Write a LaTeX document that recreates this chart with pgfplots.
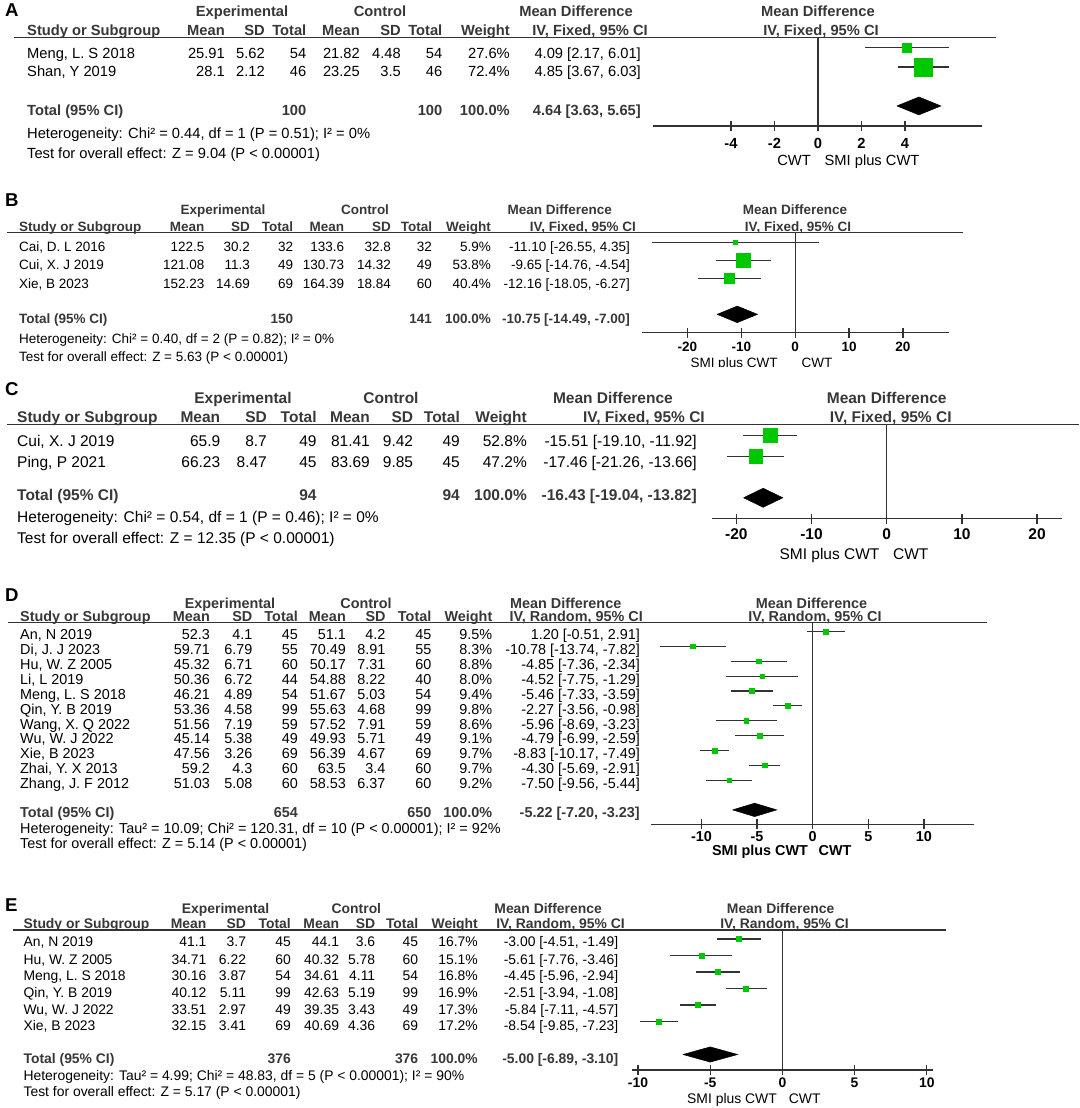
\documentclass[border=0pt]{standalone}
\usepackage{pgfplots}
\pgfplotsset{compat=1.18}
\usepackage{pgfplotstable}
\usepackage{fontspec}
\setmainfont{Liberation Sans}

\definecolor{rmgreen}{RGB}{0,200,0}
\definecolor{ln}{RGB}{50,50,50}
\definecolor{hdr}{RGB}{55,55,55}

% studies: row, mean difference, 95% CI, half side of the square (pt)
\pgfplotstableread{
row md lo hi sz
1 4.09 2.17 6.01 4.3
2 4.85 3.67 6.03 8.8
}\studA
\pgfplotstableread{
row md lo hi sz
1 -11.10 -26.55 4.35 1.7
2 -9.65 -14.76 -4.54 7.0
3 -12.16 -18.05 -6.27 5.0
}\studB
\pgfplotstableread{
row md lo hi sz
1 -15.51 -19.10 -11.92 7.0
2 -17.46 -21.26 -13.66 6.7
}\studC
\pgfplotstableread{
row md lo hi sz
1 1.20 -0.51 2.91 2.4
2 -10.78 -13.74 -7.82 2.3
3 -4.85 -7.36 -2.34 2.3
4 -4.52 -7.75 -1.29 2.3
5 -5.46 -7.33 -3.59 2.4
6 -2.27 -3.56 -0.98 2.4
7 -5.96 -8.69 -3.23 2.3
8 -4.79 -6.99 -2.59 2.4
9 -8.83 -10.17 -7.49 2.4
10 -4.30 -5.69 -2.91 2.4
11 -7.50 -9.56 -5.44 2.4
}\studD
\pgfplotstableread{
row md lo hi sz
1 -3.00 -4.51 -1.49 2.5
2 -5.61 -7.76 -3.46 2.4
3 -4.45 -5.96 -2.94 2.5
4 -2.51 -3.94 -1.08 2.5
5 -5.84 -7.11 -4.57 2.5
6 -8.54 -9.85 -7.23 2.5
}\studE

\pgfplotsset{
  forest/.style={
    scale only axis, clip=false, anchor=north west,
    axis x line*=bottom, axis y line=none,
    x axis line style={ln, line width=1.3pt},
    xtick style={ln, line width=1.3pt},
    major tick length=10pt, tick align=center,
    xticklabel style={anchor=base, text=black},
  },
  ci/.style={ln, only marks, mark=none, forget plot,
    error bars/.cd, x dir=both, x explicit, error mark=none,
    error bar style={ln, line width=1.2pt}},
  sq/.style={only marks, mark=square*, scatter,
    scatter/use mapped color={draw=rmgreen, fill=rmgreen},
    visualization depends on={\thisrow{sz} \as \msz},
    scatter/@pre marker code/.append style={/tikz/mark size=\msz pt}},
  dia/.style={fill=black, draw=black, line width=0.5pt, mark=none},
}
\newcommand\studies[1]{%
  \addplot[ci] table[x=md, y expr=-\thisrow{row},
    x error plus expr=\thisrow{hi}-\thisrow{md},
    x error minus expr=\thisrow{md}-\thisrow{lo}] {#1};
  \addplot[sq] table[x=md, y expr=-\thisrow{row}] {#1};
}

\def\fsz{14}
\tikzset{
  t/.style={inner sep=0pt, font=\fontsize{\fsz}{\fsz}\selectfont},
  tb/.style={inner sep=0pt, font=\fontsize{\fsz}{\fsz}\selectfont\bfseries, text=hdr},
  letter/.style={inner sep=0pt, anchor=base west, font=\fontsize{18.6}{18.6}\selectfont\bfseries},
}
\newcommand\setcols[9]{\def\cN{#1}\def\cMa{#2}\def\cSa{#3}\def\cNa{#4}%
  \def\cMb{#5}\def\cSb{#6}\def\cNb{#7}\def\cW{#8}\def\cMD{#9}}
\newcommand\hrow[1]{%
  \node[tb,anchor=base west] at (\cN,-#1) {Study or Subgroup};
  \node[tb,anchor=base east] at (\cMa,-#1) {Mean};
  \node[tb,anchor=base east] at (\cSa,-#1) {SD};
  \node[tb,anchor=base east] at (\cNa,-#1) {Total};
  \node[tb,anchor=base east] at (\cMb,-#1) {Mean};
  \node[tb,anchor=base east] at (\cSb,-#1) {SD};
  \node[tb,anchor=base east] at (\cNb,-#1) {Total};
  \node[tb,anchor=base east] at (\cW,-#1) {Weight};
}
\newcommand\trow[9]{%
  \node[t,anchor=base west] at (\cN,-#1) {#2};
  \node[t,anchor=base east] at (\cMa,-#1) {#3};
  \node[t,anchor=base east] at (\cSa,-#1) {#4};
  \node[t,anchor=base east] at (\cNa,-#1) {#5};
  \node[t,anchor=base east] at (\cMb,-#1) {#6};
  \node[t,anchor=base east] at (\cSb,-#1) {#7};
  \node[t,anchor=base east] at (\cNb,-#1) {#8};
  \node[t,anchor=base east] at (\cW,-#1) {#9};
}
\newcommand\mdt[2]{\node[t,anchor=base east] at (\cMD,-#1) {#2};}
\newcommand\totrow[4]{%
  \node[tb,anchor=base west] at (\cN,-#1) {Total (95\% CI)};
  \node[tb,anchor=base east] at (\cNa,-#1) {#2};
  \node[tb,anchor=base east] at (\cNb,-#1) {#3};
  \node[tb,anchor=base east] at (\cW,-#1) {100.0\%};
  \node[tb,anchor=base east] at (\cMD,-#1) {#4};
}

\begin{document}
\begin{tikzpicture}[x=1pt, y=1pt]
\useasboundingbox (0,0) rectangle (1079,-1108);

%% ---------------- A ----------------
\def\fsz{14.7}
\setcols{27}{225}{265}{306.5}{360}{401}{442.5}{510}{641}
\node[letter] at (5,-16.7) {A};
\node[tb,anchor=base] at (242,-17) {Experimental};
\node[tb,anchor=base] at (380,-17) {Control};
\node[tb,anchor=base east] at (633,-17) {Mean Difference};
\node[tb,anchor=base] at (818,-17) {Mean Difference};
\hrow{36}
\node[tb,anchor=base east] at (648,-36) {IV, Fixed, 95\% CI};
\node[tb,anchor=base] at (821,-36) {IV, Fixed, 95\% CI};
\draw[ln, line width=1.3] (14,-37.3) -- (995.5,-37.3);
\trow{58.6}{Meng, L. S 2018}{25.91}{5.62}{54}{21.82}{4.48}{54}{27.6\%}
\mdt{58.6}{4.09 [2.17, 6.01]}
\trow{77}{Shan, Y 2019}{28.1}{2.12}{46}{23.25}{3.5}{46}{72.4\%}
\mdt{77}{4.85 [3.67, 6.03]}
\totrow{115.3}{100}{100}{4.64 [3.63, 5.65]}
\node[t,anchor=base west] at (\cN,-138.6) {Heterogeneity: Chi² = 0.44, df = 1 (P = 0.51); I² = 0\%};
\node[t,anchor=base west] at (\cN,-158.6) {Test for overall effect: Z = 9.04 (P < 0.00001)};
\node[t,anchor=base] at (794,-165.3) {CWT};
\node[t,anchor=base] at (872,-165.3) {SMI plus CWT};

\begin{axis}[forest, at={(652.7pt,-37.3pt)}, width=329.5pt, height=88.7pt,
  xmin=-7.6, xmax=7.55, ymin=-5.03, ymax=-0.477,
  xtick={-4,-2,0,2,4}, xticklabels={-4,-2,0,2,4},
  xticklabel style={font=\fontsize{14.7}{14.7}\selectfont\bfseries, yshift=-17pt}]
\addplot[ln, line width=1.3pt] coordinates {(0,-0.477) (0,-5.03)};
\studies{\studA}
\addplot[dia] coordinates {(3.63,-4) (4.64,-3.54) (5.65,-4) (4.64,-4.46) (3.63,-4)};
\end{axis}

%% ---------------- B ----------------
\def\fsz{13.5}
\setcols{19}{204.5}{250}{293.4}{344.4}{391}{432.2}{491}{630}
\node[letter] at (5,-206.7) {B};
\node[tb,anchor=base] at (223,-214.8) {Experimental};
\node[tb,anchor=base] at (365,-214.8) {Control};
\node[tb,anchor=base east] at (612,-214.8) {Mean Difference};
\node[tb,anchor=base] at (795,-214.8) {Mean Difference};
\hrow{231.3}
\node[tb,anchor=base east] at (636,-231.3) {IV, Fixed, 95\% CI};
\node[tb,anchor=base] at (798,-231.3) {IV, Fixed, 95\% CI};
\draw[ln, line width=1.3] (7,-232.5) -- (963,-232.5);
\trow{251.5}{Cai, D. L 2016}{122.5}{30.2}{32}{133.6}{32.8}{32}{5.9\%}
\mdt{251.5}{-11.10 [-26.55, 4.35]}
\trow{269.8}{Cui, X. J 2019}{121.08}{11.3}{49}{130.73}{14.32}{49}{53.8\%}
\mdt{269.8}{-9.65 [-14.76, -4.54]}
\trow{288.1}{Xie, B 2023}{152.23}{14.69}{69}{164.39}{18.84}{60}{40.4\%}
\mdt{288.1}{-12.16 [-18.05, -6.27]}
\totrow{323.1}{150}{141}{-10.75 [-14.49, -7.00]}
\node[t,anchor=base west] at (\cN,-343.1) {Heterogeneity: Chi² = 0.40, df = 2 (P = 0.82); I² = 0\%};
\node[t,anchor=base west] at (\cN,-361.5) {Test for overall effect: Z = 5.63 (P < 0.00001)};
\begin{scope}
\clip (650,-340) rectangle (900,-366);
\node[t,anchor=base] at (734,-367.8) {SMI plus CWT};
\node[t,anchor=base] at (817,-367.8) {CWT};
\end{scope}

\begin{axis}[forest, at={(641.6pt,-232.5pt)}, width=307.2pt, height=100.2pt,
  xmin=-28.5, xmax=28.5, ymin=-6.02, ymax=-0.45,
  xtick={-20,-10,0,10,20}, xticklabels={-20,-10,0,10,20},
  xticklabel style={font=\fontsize{13.5}{13.5}\selectfont\bfseries, yshift=-13.8pt}]
\addplot[ln, line width=1.3pt] coordinates {(0,-0.45) (0,-6.02)};
\studies{\studB}
\addplot[dia] coordinates {(-14.49,-5) (-10.75,-4.54) (-7.00,-5) (-10.75,-5.46) (-14.49,-5)};
\end{axis}

%% ---------------- C ----------------
\def\fsz{15.5}
\setcols{17}{220.4}{267}{316.8}{370}{413.3}{460}{527}{697}
\node[letter] at (5,-395) {C};
\node[tb,anchor=base] at (243,-403.9) {Experimental};
\node[tb,anchor=base] at (391,-403.9) {Control};
\node[tb,anchor=base east] at (673,-403.9) {Mean Difference};
\node[tb,anchor=base] at (886.7,-403.9) {Mean Difference};
\hrow{422.5}
\node[tb,anchor=base east] at (705,-422.5) {IV, Fixed, 95\% CI};
\node[tb,anchor=base] at (890.7,-422.5) {IV, Fixed, 95\% CI};
\draw[ln, line width=1.3] (7,-424.5) -- (1079,-424.5);
\trow{446.2}{Cui, X. J 2019}{65.9}{8.7}{49}{81.41}{9.42}{49}{52.8\%}
\mdt{446.2}{-15.51 [-19.10, -11.92]}
\trow{467.2}{Ping, P 2021}{66.23}{8.47}{45}{83.69}{9.85}{45}{47.2\%}
\mdt{467.2}{-17.46 [-21.26, -13.66]}
\totrow{500.5}{94}{94}{-16.43 [-19.04, -13.82]}
\node[t,anchor=base west] at (\cN,-522.2) {Heterogeneity: Chi² = 0.54, df = 1 (P = 0.46); I² = 0\%};
\node[t,anchor=base west] at (\cN,-543) {Test for overall effect: Z = 12.35 (P < 0.00001)};
\node[t,anchor=base] at (829.5,-559.5) {SMI plus CWT};
\node[t,anchor=base] at (910.7,-559.5) {CWT};

\begin{axis}[forest, at={(711.5pt,-424.5pt)}, width=350.4pt, height=94.2pt,
  xmin=-23.3, xmax=23.3, ymin=-5.01, ymax=-0.466,
  xtick={-20,-10,0,10,20}, xticklabels={-20,-10,0,10,20},
  xticklabel style={font=\fontsize{15.5}{15.5}\selectfont\bfseries, yshift=-15.8pt}]
\addplot[ln, line width=1.3pt] coordinates {(0,-0.466) (0,-5.01)};
\studies{\studC}
\addplot[dia] coordinates {(-19.04,-4) (-16.43,-3.54) (-13.82,-4) (-16.43,-4.46) (-19.04,-4)};
\end{axis}

%% ---------------- D ----------------
\def\fsz{14.4}
\setcols{20}{210}{252.5}{298}{346}{385.7}{431.5}{492.5}{640}
\node[letter] at (5,-601.7) {D};
\node[tb,anchor=base] at (230,-608.9) {Experimental};
\node[tb,anchor=base] at (366,-608.9) {Control};
\node[tb,anchor=base east] at (621.5,-608.9) {Mean Difference};
\node[tb,anchor=base] at (811.5,-608.9) {Mean Difference};
\hrow{621.3}
\node[tb,anchor=base east] at (643,-621.3) {IV, Random, 95\% CI};
\node[tb,anchor=base] at (815,-621.3) {IV, Random, 95\% CI};
\draw[ln, line width=1.3] (7.6,-622.5) -- (987,-622.5);
\trow{639.6}{An, N 2019}{52.3}{4.1}{45}{51.1}{4.2}{45}{9.5\%}
\mdt{639.6}{1.20 [-0.51, 2.91]}
\trow{654.5}{Di, J. J 2023}{59.71}{6.79}{55}{70.49}{8.91}{55}{8.3\%}
\mdt{654.5}{-10.78 [-13.74, -7.82]}
\trow{669.4}{Hu, W. Z 2005}{45.32}{6.71}{60}{50.17}{7.31}{60}{8.8\%}
\mdt{669.4}{-4.85 [-7.36, -2.34]}
\trow{684.3}{Li, L 2019}{50.36}{6.72}{44}{54.88}{8.22}{40}{8.0\%}
\mdt{684.3}{-4.52 [-7.75, -1.29]}
\trow{699.2}{Meng, L. S 2018}{46.21}{4.89}{54}{51.67}{5.03}{54}{9.4\%}
\mdt{699.2}{-5.46 [-7.33, -3.59]}
\trow{714.1}{Qin, Y. B 2019}{53.36}{4.58}{99}{55.63}{4.68}{99}{9.8\%}
\mdt{714.1}{-2.27 [-3.56, -0.98]}
\trow{729.0}{Wang, X. Q 2022}{51.56}{7.19}{59}{57.52}{7.91}{59}{8.6\%}
\mdt{729.0}{-5.96 [-8.69, -3.23]}
\trow{743.9}{Wu, W. J 2022}{45.14}{5.38}{49}{49.93}{5.71}{49}{9.1\%}
\mdt{743.9}{-4.79 [-6.99, -2.59]}
\trow{758.8}{Xie, B 2023}{47.56}{3.26}{69}{56.39}{4.67}{69}{9.7\%}
\mdt{758.8}{-8.83 [-10.17, -7.49]}
\trow{773.7}{Zhai, Y. X 2013}{59.2}{4.3}{60}{63.5}{3.4}{60}{9.7\%}
\mdt{773.7}{-4.30 [-5.69, -2.91]}
\trow{788.6}{Zhang, J. F 2012}{51.03}{5.08}{60}{58.53}{6.37}{60}{9.2\%}
\mdt{788.6}{-7.50 [-9.56, -5.44]}
\totrow{817.2}{654}{650}{-5.22 [-7.20, -3.23]}
\node[t,anchor=base west] at (\cN,-833.2) {Heterogeneity: Tau² = 10.09; Chi² = 120.31, df = 10 (P < 0.00001); I² = 92\%};
\node[t,anchor=base west] at (\cN,-848.2) {Test for overall effect: Z = 5.14 (P < 0.00001)};
\node[tb,text=black,anchor=base] at (760,-855) {SMI plus CWT};
\node[tb,text=black,anchor=base] at (835,-855) {CWT};

\begin{axis}[forest, at={(651.4pt,-622.5pt)}, width=322.5pt, height=201.8pt,
  xmin=-14.5, xmax=14.5, ymin=-13.97, ymax=-0.394,
  xtick={-10,-5,0,5,10}, xticklabels={-10,-5,0,5,10},
  xticklabel style={font=\fontsize{14.4}{14.4}\selectfont\bfseries, yshift=-11.7pt}]
\addplot[ln, line width=1.3pt] coordinates {(0,-0.394) (0,-13.97)};
\studies{\studD}
\addplot[dia] coordinates {(-7.20,-13) (-5.22,-12.55) (-3.23,-13) (-5.22,-13.45) (-7.20,-13)};
\end{axis}

%% ---------------- E ----------------
\def\fsz{13.9}
\setcols{23.4}{206.6}{246.2}{291}{339.2}{375.4}{418.4}{478}{618.4}
\node[letter] at (5,-911.7) {E};
\node[tb,anchor=base] at (225.6,-913.3) {Experimental};
\node[tb,anchor=base] at (356.4,-913.3) {Control};
\node[tb,anchor=base east] at (602,-913.3) {Mean Difference};
\node[tb,anchor=base] at (780.6,-913.3) {Mean Difference};
\hrow{928.8}
\node[tb,anchor=base east] at (625,-928.8) {IV, Random, 95\% CI};
\node[tb,anchor=base] at (784.6,-928.8) {IV, Random, 95\% CI};
\draw[ln, line width=1.3] (13,-930) -- (945.7,-930);
\trow{946.7}{An, N 2019}{41.1}{3.7}{45}{44.1}{3.6}{45}{16.7\%}
\mdt{946.7}{-3.00 [-4.51, -1.49]}
\trow{964.0}{Hu, W. Z 2005}{34.71}{6.22}{60}{40.32}{5.78}{60}{15.1\%}
\mdt{964.0}{-5.61 [-7.76, -3.46]}
\trow{980.7}{Meng, L. S 2018}{30.16}{3.87}{54}{34.61}{4.11}{54}{16.8\%}
\mdt{980.7}{-4.45 [-5.96, -2.94]}
\trow{997.3}{Qin, Y. B 2019}{40.12}{5.11}{99}{42.63}{5.19}{99}{16.9\%}
\mdt{997.3}{-2.51 [-3.94, -1.08]}
\trow{1014.0}{Wu, W. J 2022}{33.51}{2.97}{49}{39.35}{3.43}{49}{17.3\%}
\mdt{1014.0}{-5.84 [-7.11, -4.57]}
\trow{1030.7}{Xie, B 2023}{32.15}{3.41}{69}{40.69}{4.36}{69}{17.2\%}
\mdt{1030.7}{-8.54 [-9.85, -7.23]}
\totrow{1063.3}{376}{376}{-5.00 [-6.89, -3.10]}
\node[t,anchor=base west] at (\cN,-1080) {Heterogeneity: Tau² = 4.99; Chi² = 48.83, df = 5 (P < 0.00001); I² = 90\%};
\node[t,anchor=base west] at (\cN,-1096.7) {Test for overall effect: Z = 5.17 (P < 0.00001)};
\node[t,anchor=base] at (732,-1103.3) {SMI plus CWT};
\node[t,anchor=base] at (804.7,-1103.3) {CWT};

\begin{axis}[forest, at={(631.5pt,-930pt)}, width=301.8pt, height=140pt,
  xmin=-10.45, xmax=10.45, ymin=-8.94, ymax=-0.455,
  xtick={-10,-5,0,5,10}, xticklabels={-10,-5,0,5,10},
  xticklabel style={font=\fontsize{13.9}{13.9}\selectfont\bfseries, yshift=-12.7pt}]
\addplot[ln, line width=1.3pt] coordinates {(0,-0.455) (0,-8.94)};
\studies{\studE}
\addplot[dia] coordinates {(-6.89,-8) (-5.00,-7.54) (-3.10,-8) (-5.00,-8.46) (-6.89,-8)};
\end{axis}
\end{tikzpicture}
\end{document}
